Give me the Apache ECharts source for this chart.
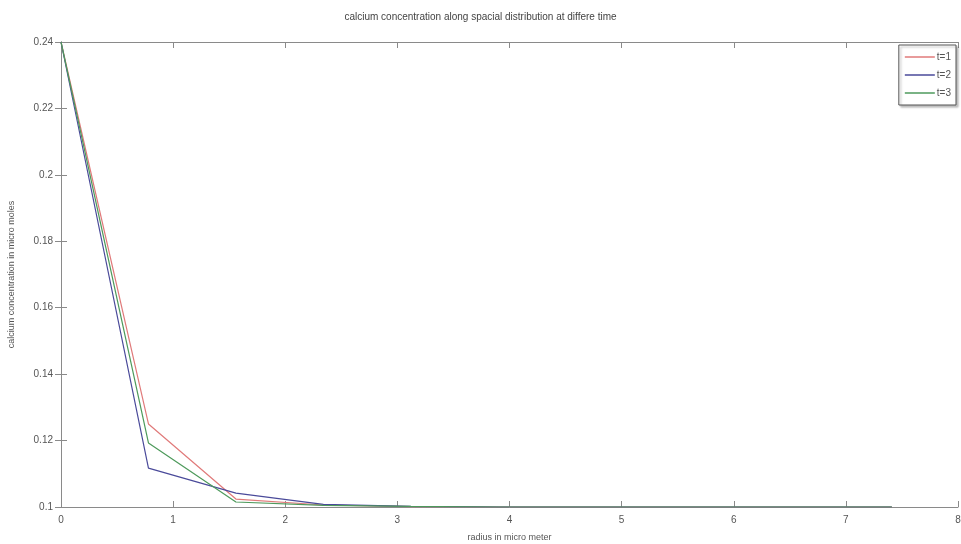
<!DOCTYPE html>
<html>
<head>
<meta charset="utf-8">
<script src="https://cdn.jsdelivr.net/npm/echarts@6/dist/echarts.min.js"></script>
<style>
  html, body { margin: 0; padding: 0; background: #fff; }
  #chart { width: 961px; height: 544px; }
</style>
</head>
<body>
<div id="chart"></div>
<script>
// radius in micro meter
var radius = [0, 0.78, 1.56, 2.34, 3.12, 3.9, 4.68, 5.46, 6.24, 7.02, 7.41];
// calcium concentration per time step
var t1 = [0.24, 0.125, 0.1024, 0.1006, 0.1001, 0.1, 0.1, 0.1, 0.1, 0.1, 0.1];
var t2 = [0.24, 0.1117, 0.1042, 0.1008, 0.1002, 0.1, 0.1, 0.1, 0.1, 0.1, 0.1];
var t3 = [0.24, 0.1193, 0.1015, 0.1005, 0.1002, 0.1, 0.1, 0.1, 0.1, 0.1, 0.1];
var seriesNames = ['t=1', 't=2', 't=3'];

function pairs(ys) {
  return radius.map(function (x, i) { return [x, ys[i]]; });
}

var myChart = echarts.init(document.getElementById('chart'));

var axisColor = '#8a8a8a';
var labelStyle = { fontFamily: 'Liberation Sans', fontSize: 10, color: '#555' };

function lineSeries(name, ys, color) {
  return {
    name: name,
    type: 'line',
    data: pairs(ys),
    symbol: 'none',
    animation: false,
    lineStyle: { color: color, width: 1.2 },
    itemStyle: { color: color }
  };
}

var option = {
  backgroundColor: '#fff',
  title: {
    text: 'calcium concentration along spacial distribution at differe time',
    left: 'center',
    top: 7,
    textStyle: { fontFamily: 'Liberation Sans', fontSize: 10, fontWeight: 'normal', color: '#444' }
  },
  legend: {
    orient: 'vertical',
    right: 5,
    top: 45,
    icon: 'rect',
    itemWidth: 30,
    itemHeight: 1.5,
    itemGap: 8,
    padding: [7, 5, 7, 6],
    borderColor: '#555',
    borderWidth: 1,
    backgroundColor: '#fff',
    shadowColor: 'rgba(0,0,0,0.25)',
    shadowOffsetX: 2,
    shadowOffsetY: 2,
    shadowBlur: 2,
    textStyle: { fontFamily: 'Liberation Sans', fontSize: 10, color: '#555', padding: [0, 0, 0, -3] },
    data: seriesNames
  },
  grid: { left: 61, right: 3, top: 42, bottom: 37, containLabel: false, outerBoundsMode: 'none' },
  xAxis: [{
    type: 'value',
    min: 0,
    max: 8,
    interval: 1,
    name: 'radius in micro meter',
    nameLocation: 'middle',
    nameGap: 26,
    nameTextStyle: { fontFamily: 'Liberation Sans', fontSize: 9, color: '#555' },
    axisLine: { show: true, lineStyle: { color: axisColor } },
    axisTick: { show: true, inside: true, length: 6, lineStyle: { color: axisColor } },
    axisLabel: labelStyle,
    splitLine: { show: false }
  }, {
    type: 'value',
    position: 'top',
    min: 0,
    max: 8,
    interval: 1,
    axisLine: { show: true, lineStyle: { color: axisColor } },
    axisTick: { show: true, inside: true, length: 6, lineStyle: { color: axisColor } },
    axisLabel: { show: false },
    splitLine: { show: false }
  }],
  yAxis: [{
    type: 'value',
    min: 0.1,
    max: 0.24,
    interval: 0.02,
    name: 'calcium concentration in micro moles',
    nameLocation: 'middle',
    nameGap: 45,
    nameTextStyle: { fontFamily: 'Liberation Sans', fontSize: 9, color: '#555' },
    axisLine: { show: true, lineStyle: { color: axisColor } },
    axisTick: { show: true, inside: true, length: 6, lineStyle: { color: axisColor } },
    axisLabel: Object.assign({
      formatter: function (v) { return String(parseFloat(v.toFixed(2))); }
    }, labelStyle),
    splitLine: { show: false }
  }, {
    type: 'value',
    position: 'right',
    min: 0.1,
    max: 0.24,
    interval: 0.02,
    axisLine: { show: true, lineStyle: { color: axisColor } },
    axisTick: { show: true, inside: true, length: 6, lineStyle: { color: axisColor } },
    axisLabel: { show: false },
    splitLine: { show: false }
  }],
  series: [
    lineSeries('t=1', t1, '#e07a7a'),
    lineSeries('t=2', t2, '#4a4a9a'),
    lineSeries('t=3', t3, '#4e9a5c')
  ]
};

myChart.setOption(option);
window.addEventListener('resize', myChart.resize);
</script>
</body>
</html>
